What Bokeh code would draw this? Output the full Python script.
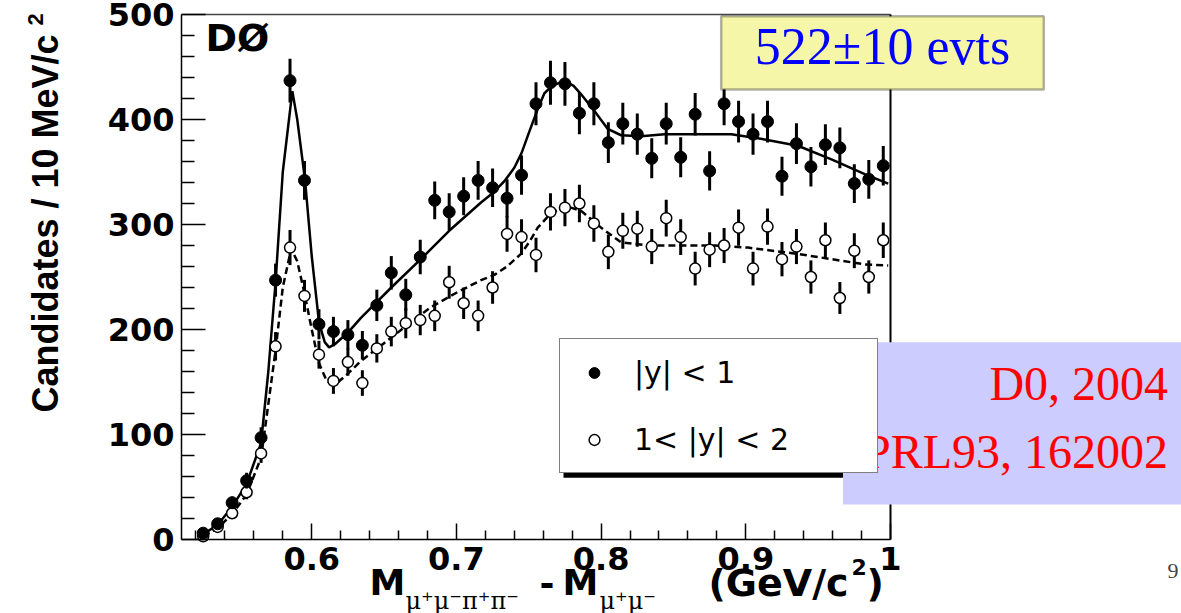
from math import pi, sqrt
from bokeh.plotting import figure
from bokeh.models import (Label, BoxAnnotation, FixedTicker, Range1d, LinearAxis,
                          ColumnDataSource, Legend, LegendItem)
from bokeh.embed import file_html
from bokeh.resources import INLINE

# ---------------- data ----------------
mass_bins = [0.525, 0.535, 0.545, 0.555, 0.565, 0.575, 0.585, 0.595, 0.605, 0.615,
             0.625, 0.635, 0.645, 0.655, 0.665, 0.675, 0.685, 0.695, 0.705, 0.715,
             0.725, 0.735, 0.745, 0.755, 0.765, 0.775, 0.785, 0.795, 0.805, 0.815,
             0.825, 0.835, 0.845, 0.855, 0.865, 0.875, 0.885, 0.895, 0.905, 0.915,
             0.925, 0.935, 0.945, 0.955, 0.965, 0.975, 0.985, 0.995]

counts_central = [6, 15, 35, 56, 97, 247, 437, 342, 205, 198,
                  195, 185, 223, 254, 233, 269, 323, 312, 327, 342,
                  335, 325, 347, 415, 435, 434, 406, 415, 378, 396,
                  386, 363, 396, 364, 405, 351, 415, 398, 386, 398,
                  346, 377, 355, 376, 373, 339, 343, 356]

counts_forward = [3, 12, 25, 45, 82, 184, 278, 232, 176, 151,
                  169, 149, 182, 198, 206, 209, 213, 245, 225, 213,
                  240, 291, 288, 271, 312, 316, 320, 301, 274, 294,
                  296, 279, 306, 288, 258, 276, 280, 297, 258, 298,
                  267, 279, 250, 285, 230, 275, 250, 285]

fit_central_x = [0.525, 0.535, 0.545, 0.555, 0.565, 0.570, 0.575, 0.580, 0.5866, 0.590,
                 0.5954, 0.600, 0.6051, 0.609, 0.612, 0.616, 0.620, 0.625, 0.634, 0.655,
                 0.6754, 0.695, 0.717, 0.726, 0.733, 0.740, 0.745, 0.750, 0.7562, 0.7608,
                 0.7654, 0.7710, 0.7758, 0.7810, 0.7862, 0.7954, 0.8046, 0.8138, 0.8277, 0.8438,
                 0.8669, 0.890, 0.913, 0.936, 0.9592, 0.9822, 0.9984]
fit_central_y = [5, 14, 31, 53, 92, 160, 245, 350, 427, 400,
                 342, 270, 206, 188, 183, 186, 191, 197, 211, 240,
                 267, 294, 321, 331, 341, 354, 368, 387, 410, 425,
                 431, 435, 436, 432, 424, 408, 391, 385, 384, 386,
                 386, 386, 381, 375, 362, 348, 339]

fit_forward_x = [0.525, 0.535, 0.545, 0.555, 0.565, 0.575, 0.580, 0.5858, 0.590, 0.5954,
                 0.600, 0.605, 0.610, 0.6135, 0.6175, 0.625, 0.634, 0.650, 0.665, 0.682,
                 0.700, 0.717, 0.7262, 0.735, 0.7446, 0.7502, 0.7562, 0.7642, 0.7746, 0.7862,
                 0.800, 0.8138, 0.8323, 0.855, 0.8784, 0.9015, 0.936, 0.9592, 0.9822, 0.9984]
fit_forward_y = [3, 11, 24, 43, 78, 180, 240, 277, 265, 232,
                 200, 168, 152, 148, 149, 158, 170, 187, 203, 221,
                 235, 247, 252, 260, 272, 283, 297, 309, 318, 313,
                 297, 283, 280, 280, 280, 278, 272, 267, 262, 261]

x_limits = (0.51, 1.0)
y_limits = (0, 500)
x_major_ticks = [0.6, 0.7, 0.8, 0.9, 1.0]
x_minor_ticks = [0.52, 0.54, 0.56, 0.58, 0.62, 0.64, 0.66, 0.68, 0.72, 0.74, 0.76, 0.78,
                 0.82, 0.84, 0.86, 0.88, 0.92, 0.94, 0.96, 0.98]
y_major_ticks = [0, 100, 200, 300, 400, 500]
y_minor_ticks = [20, 40, 60, 80, 120, 140, 160, 180, 220, 240, 260, 280,
                 320, 340, 360, 380, 420, 440, 460, 480]
legend_labels = ["|y| < 1", "1< |y| < 2"]

# ---------------- layout ----------------
W, H = 1181, 613
FL, FR, FT, FB = 181, 890, 14, 539      # pixel box of the plotting area
kx = (FR - FL) / (x_limits[1] - x_limits[0])
ky = (FB - FT) / (y_limits[1] - y_limits[0])
x_range = Range1d(x_limits[0] - FL / kx, x_limits[1] + (W - FR) / kx)
y_range = Range1d(y_limits[0] - (H - FB) / ky, y_limits[1] + FT / ky)


def SX(px):
    return px


def SY(py):
    return H - py


p = figure(width=W, height=H, x_range=x_range, y_range=y_range,
           x_axis_type=None, y_axis_type=None,
           output_backend="svg", toolbar_location=None,
           min_border=0, min_border_left=0, min_border_right=0,
           min_border_top=0, min_border_bottom=0)
p.background_fill_color = "white"
p.border_fill_color = "white"
p.outline_line_color = None
p.grid.visible = False


def style_axis(ax, tick_in, minor_in):
    ax.axis_line_color = "black"
    ax.axis_line_width = 1.5
    ax.major_tick_line_color = "black"
    ax.minor_tick_line_color = "black"
    ax.major_tick_line_width = 1.5
    ax.minor_tick_line_width = 1.5
    ax.major_tick_out = 0
    ax.minor_tick_out = 0
    ax.major_tick_in = tick_in
    ax.minor_tick_in = minor_in
    ax.major_label_text_font = "DejaVu Sans"
    ax.major_label_text_font_style = "bold"
    ax.major_label_text_font_size = "32px"
    ax.major_label_text_color = "black"
    ax.major_label_standoff = 7


xaxis = LinearAxis(fixed_location=y_limits[0], bounds=x_limits,
                   ticker=FixedTicker(ticks=x_major_ticks, minor_ticks=x_minor_ticks),
                   major_label_overrides={1: "1"})
style_axis(xaxis, 16, 9)
p.add_layout(xaxis, "below")

yaxis = LinearAxis(fixed_location=x_limits[0], bounds=y_limits,
                   ticker=FixedTicker(ticks=y_major_ticks, minor_ticks=y_minor_ticks))
style_axis(yaxis, 24, 13)
p.add_layout(yaxis, "left")

topaxis = LinearAxis(fixed_location=y_limits[1], bounds=x_limits,
                     ticker=FixedTicker(ticks=[], minor_ticks=[]))
style_axis(topaxis, 0, 0)
topaxis.major_label_text_font_size = "0px"
topaxis.axis_line_color = "#444444"
p.add_layout(topaxis, "above")

rightaxis = LinearAxis(fixed_location=x_limits[1], bounds=y_limits,
                       ticker=FixedTicker(ticks=[], minor_ticks=[]))
style_axis(rightaxis, 0, 0)
rightaxis.major_label_text_font_size = "0px"
rightaxis.axis_line_width = 2
p.add_layout(rightaxis, "right")

# ---------------- glyphs ----------------
src_c = ColumnDataSource(dict(x=mass_bins, y=counts_central,
                              lo=[n - sqrt(n) for n in counts_central],
                              hi=[n + sqrt(n) for n in counts_central]))
src_f = ColumnDataSource(dict(x=mass_bins, y=counts_forward,
                              lo=[n - sqrt(n) for n in counts_forward],
                              hi=[n + sqrt(n) for n in counts_forward]))

p.line(fit_central_x, fit_central_y, line_color="black", line_width=2.5)
p.line(fit_forward_x, fit_forward_y, line_color="black", line_width=2.5, line_dash="7 4")

p.segment(x0="x", y0="lo", x1="x", y1="hi", source=src_f, line_color="black", line_width=3)
r_f = p.scatter("x", "y", source=src_f, marker="circle", size=11,
                fill_color="white", line_color="black", line_width=1.5)
p.segment(x0="x", y0="lo", x1="x", y1="hi", source=src_c, line_color="black", line_width=3)
r_c = p.scatter("x", "y", source=src_c, marker="circle", size=12,
                fill_color="black", line_color="black")

# ---------------- texts ----------------
def lab(px, py, text, **kw):
    kw.setdefault("text_baseline", "middle")
    kw.setdefault("text_align", "left")
    p.add_layout(Label(x=SX(px), y=SY(py), x_units="screen", y_units="screen",
                       text=text, **kw))


bold = dict(text_font="DejaVu Sans", text_font_style="bold", text_color="black")
lbold = dict(text_font="Liberation Sans", text_font_style="bold", text_color="black")

lab(45, 412, "Candidates / 10 MeV/c", angle=pi / 2, text_font_size="36px", **lbold)
lab(34.5, 25, "2", angle=pi / 2, text_font_size="22px", **lbold)

lab(205, 37.5, "DØ", text_font_size="38px", **bold)

lab(369, 582, "M", text_font_size="36px", **bold)
lab(405, 600, "μ⁺μ⁻π⁺π⁻", text_font="DejaVu Serif", text_font_size="24px", text_color="black")
lab(539, 582, "-", text_font_size="36px", **bold)
lab(562, 582, "M", text_font_size="36px", **bold)
lab(599, 600, "μ⁺μ⁻", text_font="DejaVu Serif", text_font_size="24px", text_color="black")
lab(708, 582, "(GeV/c", text_font_size="38px", **bold)
lab(851, 566, "2", text_font_size="22px", **bold)
lab(866, 582, ")", text_font_size="38px", **bold)

# ---------------- legend ----------------
shadow = BoxAnnotation(left=SX(563), right=SX(880), top=SY(345.7), bottom=SY(477.3),
                       left_units="screen", right_units="screen",
                       top_units="screen", bottom_units="screen",
                       fill_color="black", fill_alpha=1, line_color=None, level="underlay")
p.add_layout(shadow)

legend = Legend(items=[LegendItem(label=legend_labels[0], renderers=[r_c]),
                       LegendItem(label=legend_labels[1], renderers=[r_f])],
                location=(SX(559), SY(473.3)), orientation="vertical",
                padding=13, spacing=27, margin=0,
                glyph_width=42, glyph_height=27, label_height=40, label_width=230,
                label_standoff=19,
                label_text_font="DejaVu Sans", label_text_font_size="30px",
                label_text_color="black",
                border_line_color="black", border_line_width=1.5,
                background_fill_color="white", background_fill_alpha=1)
p.add_layout(legend)

# ---------------- annotation boxes ----------------
lav = BoxAnnotation(left=SX(842.5), right=SX(1181), top=SY(341.7), bottom=SY(504),
                    left_units="screen", right_units="screen",
                    top_units="screen", bottom_units="screen",
                    fill_color="#CCCCFF", fill_alpha=1, line_color=None, level="overlay")
p.add_layout(lav)
serif = dict(text_font="Liberation Serif", level="overlay")
lab(1167.6, 382.5, "D0, 2004", text_align="right", text_font_size="48px",
    text_color="#FF0000", **serif)
lab(1167.6, 451, "PRL93, 162002", text_align="right", text_font_size="48px",
    text_color="#FF0000", **serif)

yel = BoxAnnotation(left=SX(720.7), right=SX(1043.3), top=SY(15.7), bottom=SY(89),
                    left_units="screen", right_units="screen",
                    top_units="screen", bottom_units="screen",
                    fill_color="#F6F6A8", fill_alpha=1, line_color="black",
                    line_width=2.5, level="overlay")
p.add_layout(yel)
lab(882, 46, "522±10 evts", text_align="center", text_font_size="52px",
    text_color="#0000FF", **serif)

lab(1167, 570, "9", text_font="Liberation Serif", text_font_size="22px",
    text_color="#444444")

open("out.html", "w").write(file_html(p, INLINE))
